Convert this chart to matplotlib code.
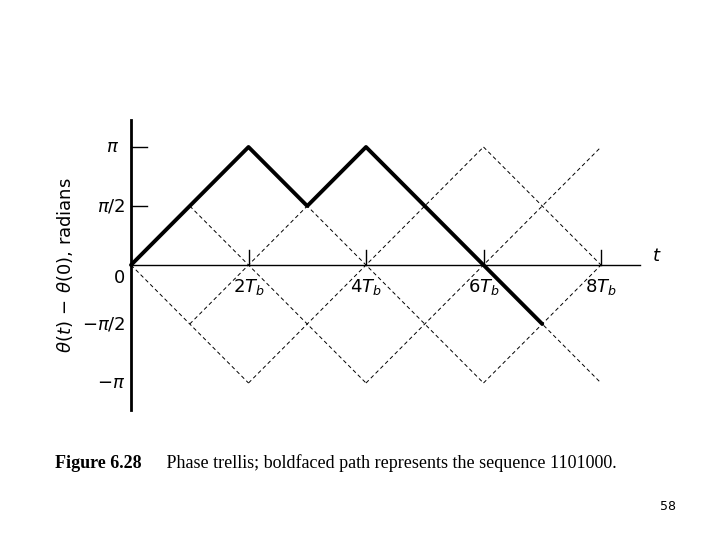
import matplotlib
matplotlib.use("Agg")
import matplotlib.pyplot as plt
import numpy as np

bits = [1, 1, 0, 1, 0, 0, 0]
n_intervals = 8
y_tick_vals = [2, 1, 0, -1, -2]
y_tick_labels = [r"$\pi$", r"$\pi/2$", "0", r"$-\pi/2$", r"$-\pi$"]
x_tick_vals = [2, 4, 6, 8]
x_tick_labels = [r"$2T_b$", r"$4T_b$", r"$6T_b$", r"$8T_b$"]

fig = plt.figure(figsize=(7.2, 5.4), dpi=100)
ax = fig.add_axes([0, 0, 1, 1])
ux, uy = 58.75, 59.0
ax.set_xlim(-131/ux, (720-131)/ux)
ax.set_ylim((265-540)/uy, 265/uy)
ax.axis("off")

# trellis lines
for k in range(-4, 9):
    for s in (1, -1):
        t = np.linspace(0, n_intervals, 801)
        y = s*(t - 2*k)
        m = (np.abs(y) <= 2 + 1e-9) & (t >= np.abs(y) - 1e-9)
        if m.sum() > 1:
            ax.plot(t[m], y[m], color="black", lw=0.7, ls=(0, (4, 3)))

# bold path
path = [0]
for b in bits:
    path.append(path[-1] + (1 if b else -1))
ax.plot(range(len(path)), path, color="black", lw=2.8, solid_capstyle="round")

# axes
ax.plot([0, 0], [(265-410)/uy, (265-120)/uy], color="black", lw=2)
ax.plot([0, (640-131)/ux], [0, 0], color="black", lw=1)
for v in [2, 1]:
    ax.plot([0, 16/ux], [v, v], color="black", lw=1)
for v in x_tick_vals:
    ax.plot([v, v], [0, 15/uy], color="black", lw=1)

ax.text(-0.2, 2, y_tick_labels[0], ha="right", va="center", fontsize=13)
for v, l in zip(y_tick_vals[1:], y_tick_labels[1:]):
    yy = v if v != 0 else -13/uy
    ax.text(-0.1, yy, l, ha="right", va="center", fontsize=13)
for v, l in zip(x_tick_vals, x_tick_labels):
    ax.text(v, -22/uy, l, ha="center", va="center", fontsize=13)
ax.text((657-131)/ux, 0, r"$t$", ha="center", va="bottom", fontsize=13)
ax.text((65-131)/ux, 0, r"$\theta(t)\,-\,\theta(0)$, radians", rotation=90,
        ha="center", va="center", fontsize=13)

fig.text(55/720, 1-463/540, "Figure 6.28", family="Liberation Serif",
         fontweight="bold", fontsize=13, va="center")
fig.text(162/720, 1-463/540,
         " Phase trellis; boldfaced path represents the sequence 1101000.",
         family="Liberation Serif", fontsize=13, va="center")
fig.text(676/720, 1-506/540, "58", ha="right", va="center", fontsize=9)

fig.savefig("out.png", dpi=100)
